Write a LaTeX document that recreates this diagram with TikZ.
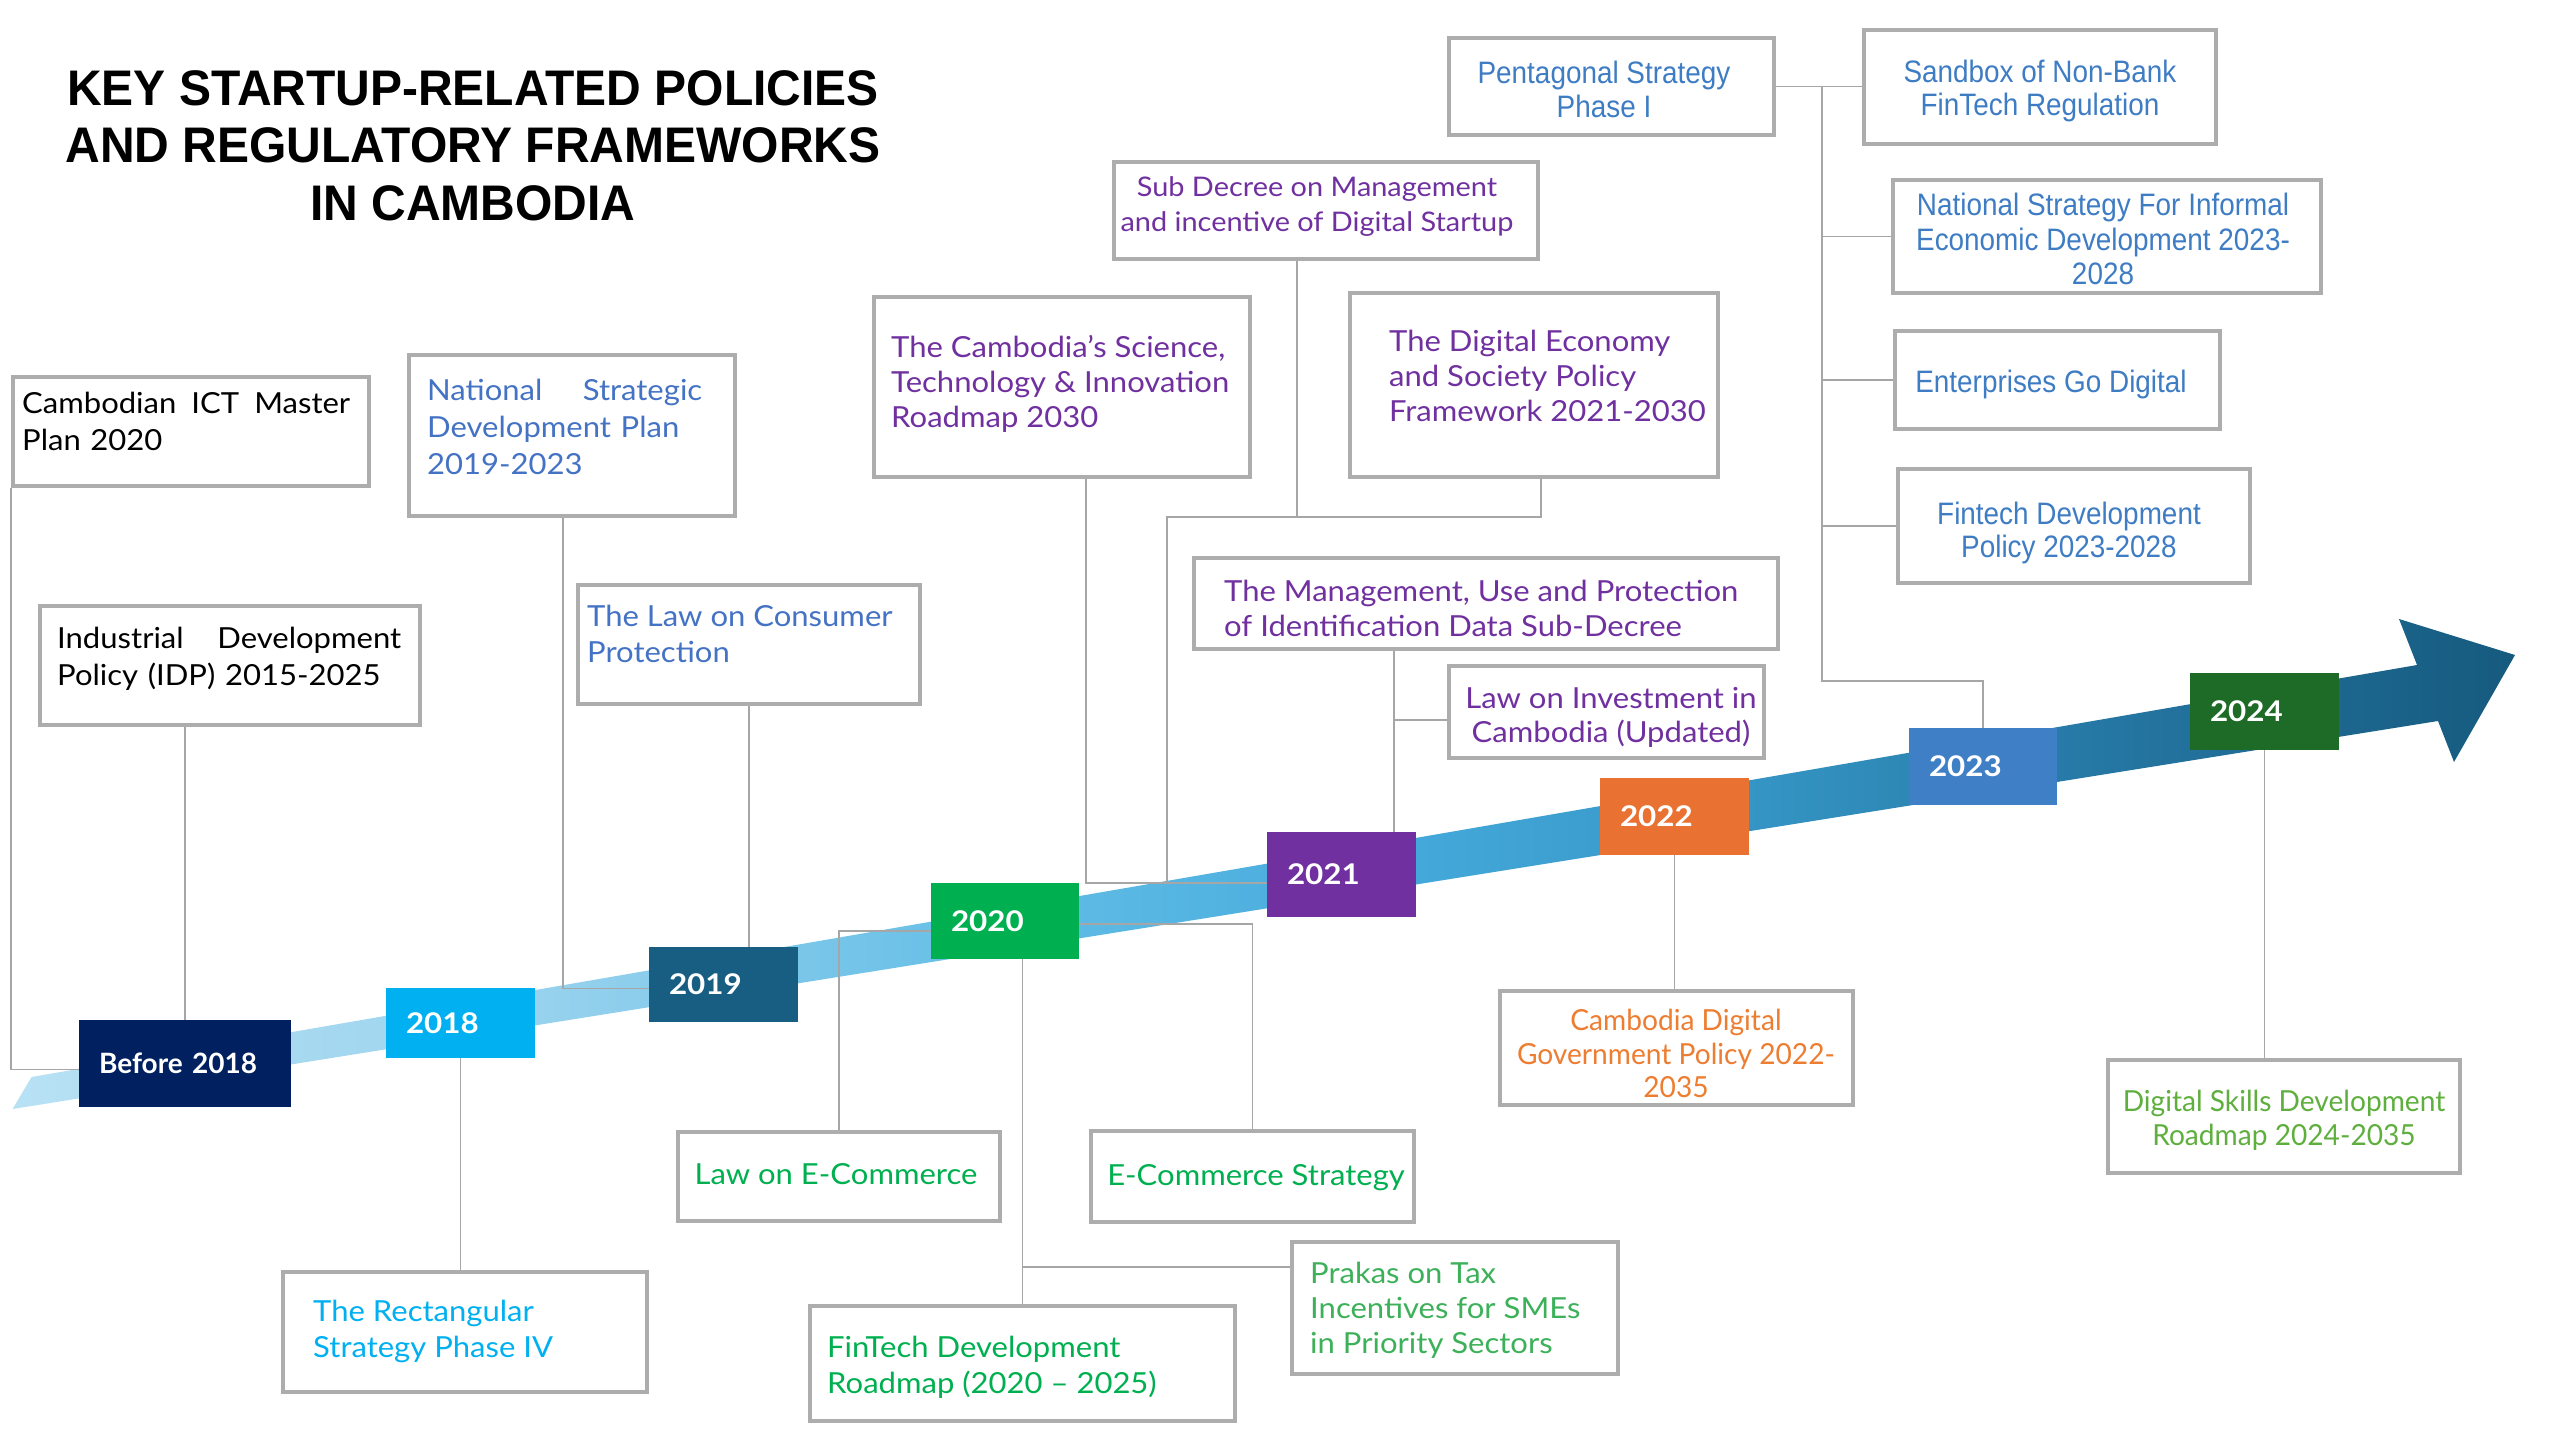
\documentclass[tikz,border=0pt]{standalone}
\usepackage{fontspec}
\setmainfont{Lato}[FakeStretch=1.07]
\newfontfamily\yearfont{Lato}
\newfontfamily\yearwide{Lato}[FakeStretch=1.1]
\newfontfamily\condfont{Lato}[FakeStretch=0.97]
\newfontfamily\arialfont{Liberation Sans}[FakeStretch=0.9]
\newfontfamily\titlefont{Liberation Sans}[FakeStretch=0.96]
\usetikzlibrary{calc}
\definecolor{bordergray}{HTML}{ADADAD}
\definecolor{linegray}{HTML}{A6A6A6}
\definecolor{tblue}{HTML}{4472C4}
\definecolor{tpurple}{HTML}{7030A0}
\definecolor{tsteel}{HTML}{3E7CC3}
\definecolor{tcyan}{HTML}{00B0F0}
\definecolor{tgreen}{HTML}{00B050}
\definecolor{tgreenb}{HTML}{3DB15A}
\definecolor{torange}{HTML}{ED7D31}
\definecolor{tlgreen}{HTML}{5FAF3E}
\definecolor{cb18}{HTML}{002060}
\definecolor{c18}{HTML}{00B0F0}
\definecolor{c19}{HTML}{185E82}
\definecolor{c20}{HTML}{00B050}
\definecolor{c21}{HTML}{7030A0}
\definecolor{c22}{HTML}{E97132}
\definecolor{c23}{HTML}{3F7FC6}
\definecolor{c24}{HTML}{1D6B26}
\definecolor{bsa}{HTML}{B8E1F4}
\definecolor{bsb}{HTML}{9AD3EE}
\definecolor{bsc}{HTML}{62BDE6}
\definecolor{bsd}{HTML}{45AADC}
\definecolor{bse}{HTML}{3494C3}
\definecolor{bsf}{HTML}{2474A0}
\definecolor{bsg}{HTML}{165A7E}
\pgfdeclarehorizontalshading{bandshade}{100bp}{color(0bp)=(bsa); color(25bp)=(bsa); color(35bp)=(bsb); color(45bp)=(bsc); color(52.5bp)=(bsd); color(60bp)=(bse); color(67.5bp)=(bsf); color(75bp)=(bsg); color(100bp)=(bsg)}
\pgfdeclarelayer{bglayer}
\pgfdeclarelayer{bandlayer}
\pgfdeclarelayer{connlayer}
\pgfsetlayers{bglayer,bandlayer,connlayer,main}
\tikzset{
  pbox/.style={draw=bordergray, line width=4pt, fill=white, inner sep=0pt},
  conn/.style={draw=linegray, line width=1.5pt},
  yr/.style={inner ysep=0pt, inner xsep=20pt, align=left, text=white, font=\yearwide\fontsize{28.5}{32}\selectfont\bfseries},
  txt/.style={inner sep=0pt, font=\fontsize{29}{36}\selectfont},
  atxt/.style={inner sep=0pt, font=\arialfont\fontsize{31}{34}\selectfont, text=tsteel, align=center, anchor=north},
}
\begin{document}
\begin{tikzpicture}[x=1pt, y=-1pt]
\useasboundingbox (0,0) rectangle (2560,1440);
\begin{pgfonlayer}{bglayer}
\fill[white] (0,0) rectangle (2560,1440);
\end{pgfonlayer}

% title
\node[anchor=north, align=center, inner sep=0pt, font=\titlefont\bfseries\fontsize{50}{57.5}\selectfont] (title) at (473,70) {KEY STARTUP-RELATED POLICIES\\AND REGULATORY FRAMEWORKS\\IN CAMBODIA};

% year boxes
\node[yr, fill=cb18, minimum height=87pt, text width=172pt, font=\yearfont\fontsize{28}{32}\selectfont\bfseries] (b18) at (185,1063.5) {Before 2018};
\node[yr, fill=c18, minimum height=70pt, text width=109pt] (y18) at (460.5,1023) {2018};
\node[yr, fill=c19, minimum height=75pt, text width=109pt] (y19) at (723.5,984.5) {2019};
\node[yr, fill=c20, minimum height=76pt, text width=108pt] (y20) at (1005,921) {2020};
\node[yr, fill=c21, minimum height=85pt, text width=109pt] (y21) at (1341.5,874.5) {2021};
\node[yr, fill=c22, minimum height=77pt, text width=109pt] (y22) at (1674.5,816.5) {2022};
\node[yr, fill=c23, minimum height=77pt, text width=108pt] (y23) at (1983,766.5) {2023};
\node[yr, fill=c24, minimum height=77pt, text width=109pt] (y24) at (2264.5,711.5) {2024};

% policy boxes
\node[pbox, minimum width=356pt, minimum height=109pt] (ict) at (191,431.5) {};
\node[pbox, minimum width=326pt, minimum height=161pt] (nat) at (572,435.5) {};
\node[pbox, minimum width=380pt, minimum height=119pt] (ind) at (230,665.5) {};
\node[pbox, minimum width=342pt, minimum height=119pt] (cons) at (749,644.5) {};
\node[pbox, minimum width=376pt, minimum height=180pt] (sci) at (1062,387) {};
\node[pbox, minimum width=424pt, minimum height=97pt] (sub) at (1326,210.5) {};
\node[pbox, minimum width=368pt, minimum height=184pt] (dig) at (1534,385) {};
\node[pbox, minimum width=584pt, minimum height=91pt] (mgmt) at (1486,603.5) {};
\node[pbox, minimum width=315pt, minimum height=92pt] (law) at (1606.5,712) {};
\node[pbox, minimum width=325pt, minimum height=97pt] (pent) at (1611.5,86.5) {};
\node[pbox, minimum width=352pt, minimum height=114pt] (sand) at (2040,87) {};
\node[pbox, minimum width=428pt, minimum height=113pt] (inf) at (2107,236.5) {};
\node[pbox, minimum width=325pt, minimum height=98pt] (ent) at (2057.5,380) {};
\node[pbox, minimum width=352pt, minimum height=114pt] (fdp) at (2074,526) {};
\node[pbox, minimum width=364pt, minimum height=120pt] (rect) at (465,1332) {};
\node[pbox, minimum width=322pt, minimum height=89pt] (lec) at (839,1176.5) {};
\node[pbox, minimum width=323pt, minimum height=91pt] (ecs) at (1252.5,1176.5) {};
\node[pbox, minimum width=425pt, minimum height=115pt] (fin) at (1022.5,1363.5) {};
\node[pbox, minimum width=326pt, minimum height=132pt] (prak) at (1455,1308) {};
\node[pbox, minimum width=353pt, minimum height=114pt] (cdg) at (1676.5,1048) {};
\node[pbox, minimum width=352pt, minimum height=113pt] (dsk) at (2284,1116.5) {};

% texts
\node[txt, anchor=north west, text width=328pt, align=left, font=\fontsize{29}{37}\selectfont] (ict-t) at (22,392) {Cambodian\hfill ICT\hfill Master\\Plan 2020};
\node[txt, anchor=north west, text width=275pt, align=left, text=tblue, font=\fontsize{29}{37}\selectfont] (nat-t) at (427,379) {National\hfill Strategic\\Development Plan\\2019-2023};
\node[txt, anchor=north west, text width=344pt, align=left, font=\fontsize{29}{37}\selectfont] (ind-t) at (57,627) {Industrial\hfill Development\\Policy (IDP) 2015-2025};
\node[txt, anchor=north west, align=left, text=tblue] (cons-t) at (587,605) {The Law on Consumer\\Protection};
\node[txt, anchor=north west, align=left, text=tpurple, font=\fontsize{29}{35}\selectfont] (sci-t) at (891,335) {The Cambodia's Science,\\Technology \& Innovation\\Roadmap 2030};
\node[txt, anchor=north, align=center, text=tpurple, font=\fontsize{27}{35}\selectfont] (sub-t) at (1317,176) {Sub Decree on Management\\and incentive of Digital Startup};
\node[txt, anchor=north west, align=left, text=tpurple, font=\fontsize{29}{35}\selectfont] (dig-t) at (1389,330) {The Digital Economy\\and Society Policy\\Framework 2021-2030};
\node[txt, anchor=north west, align=left, text=tpurple, font=\fontsize{29}{35}\selectfont] (mgmt-t) at (1224,580) {The Management, Use and Protection\\of Identification Data Sub-Decree};
\node[txt, anchor=north, align=center, text=tpurple, font=\fontsize{29}{34}\selectfont] (law-t) at (1611,687) {Law on Investment in\\Cambodia (Updated)};
\node[atxt] (pent-t) at (1604,61) {Pentagonal Strategy\\Phase I};
\node[atxt, font=\arialfont\fontsize{31}{33}\selectfont] (sand-t) at (2040,60) {Sandbox of Non-Bank\\FinTech Regulation};
\node[atxt, font=\arialfont\fontsize{31}{34.5}\selectfont] (inf-t) at (2103,193) {National Strategy For Informal\\Economic Development 2023-\\2028};
\node[atxt] (ent-t) at (2051,370) {Enterprises Go Digital};
\node[atxt, font=\arialfont\fontsize{31}{33}\selectfont] (fdp-t) at (2069,502) {Fintech Development\\Policy 2023-2028};
\node[txt, anchor=north west, align=left, text=tcyan, font=\fontsize{29}{35.5}\selectfont] (rect-t) at (313,1300) {The Rectangular\\Strategy Phase IV};
\node[txt, anchor=north, align=center, text=tgreen] (lec-t) at (836,1163) {Law on E-Commerce};
\node[txt, anchor=north, align=center, text=tgreen] (ecs-t) at (1256,1164) {E-Commerce Strategy};
\node[txt, anchor=north west, align=left, text=tgreen] (fin-t) at (827,1336) {FinTech Development\\Roadmap (2020 -- 2025)};
\node[txt, anchor=north west, align=left, text=tgreenb, font=\fontsize{29}{35}\selectfont] (prak-t) at (1310,1262) {Prakas on Tax\\Incentives for SMEs\\in Priority Sectors};
\node[txt, anchor=north, align=center, text=torange, font=\condfont\fontsize{29}{33.5}\selectfont] (cdg-t) at (1676,1009) {Cambodia Digital\\Government Policy 2022-\\2035};
\node[txt, anchor=north, align=center, text=tlgreen, font=\condfont\fontsize{29}{34}\selectfont] (dsk-t) at (2284,1090) {Digital Skills Development\\Roadmap 2024-2035};

% band arrow
\begin{pgfonlayer}{bandlayer}
\shade[shading=bandshade] (12.6,1109) -- (31.6,1077) -- (2417,665) -- (2399,619) -- (2515,655) -- (2454,762) -- (2438,721) -- cycle;
\end{pgfonlayer}

% connectors
\begin{pgfonlayer}{connlayer}
\draw[conn] (ict.south west) |- ($(b18.west)+(0,6)$);
\draw[conn] (b18.north |- ind.south) -- (b18.north);
\draw[conn] (y18.south) -- (y18.south |- rect.north);
\draw[conn] ($(nat.south)+(-9,0)$) |- ($(y19.west)+(0,4)$);
\draw[conn] (cons.south) -- (cons.south |- y19.north);
\draw[conn] (lec.north) |- ($(y20.west)+(0,10)$);
\draw[conn] (fin.north |- y20.south) -- (fin.north);
\coordinate (jp) at ($(fin.north)+(0,-37)$);
\draw[conn] (jp) -- (jp -| prak.west);
\draw[conn] ($(y20.east)+(0,3)$) -| (ecs.north);
\coordinate (y21w) at ($(y21.west)+(0,8.5)$);
\coordinate (k0) at (1167,517);
\coordinate (k2) at ($(sub.south)+(-29,0)$);
\draw[conn] ($(sci.south)+(24,0)$) |- (y21w);
\draw[conn] ($(dig.south)+(7,0)$) |- (k0) -- (k0 |- y21w);
\draw[conn] (k2) -- (k2 |- k0);
\coordinate (km) at ($(y21.north)+(52.5,0)$);
\coordinate (kl) at ($(law.west)+(0,8)$);
\draw[conn] (km |- mgmt.south) -- (km);
\draw[conn] (km |- kl) -- (kl);
\draw[conn] (y22.south) -- (y22.south |- cdg.north);
\draw[conn] (pent.east) -- (pent.east -| sand.west);
\coordinate (tp) at ($(pent.east)+(46,0)$);
\coordinate (t23) at ($(y23.north)+(0,-47)$);
\draw[conn] (tp) |- (t23) -- (y23.north);
\draw[conn] (tp |- inf.west) -- (inf.west);
\draw[conn] (tp |- ent.west) -- (ent.west);
\draw[conn] (tp |- fdp.west) -- (fdp.west);
\draw[conn] (y24.south) -- (y24.south |- dsk.north);
\end{pgfonlayer}
\end{tikzpicture}
\end{document}
